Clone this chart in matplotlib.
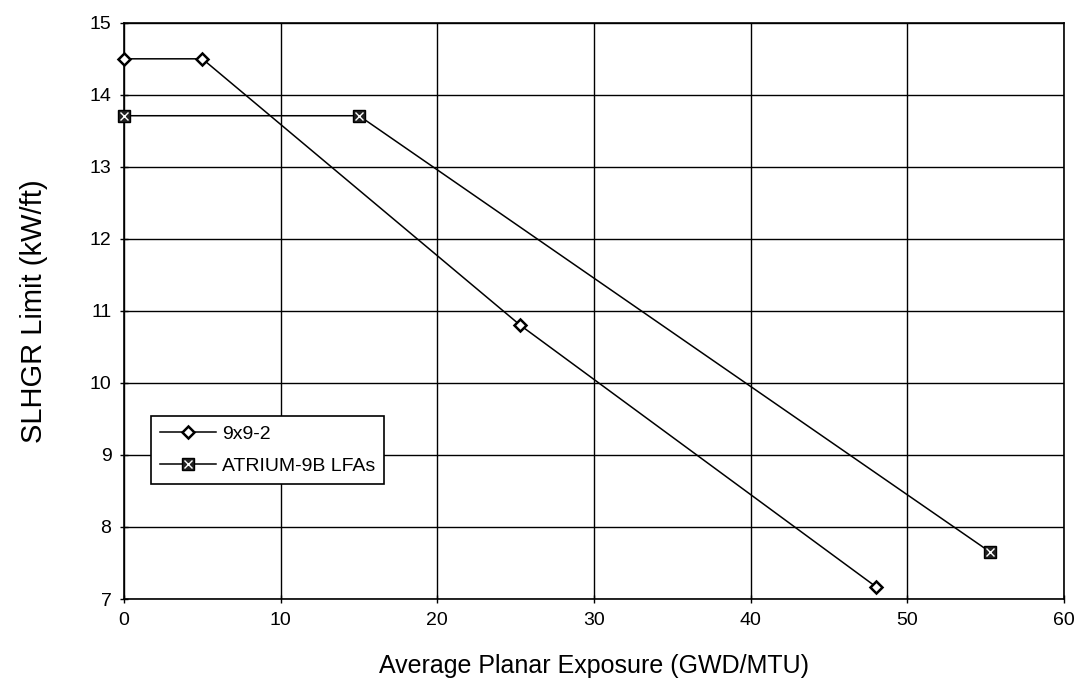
import matplotlib
matplotlib.use('Agg')
import matplotlib.pyplot as plt

plt.rcParams['font.family'] = ['Liberation Sans', 'DejaVu Sans']

x_992 = [0, 5, 25.3, 48.0]
y_992 = [14.5, 14.5, 10.8, 7.17]
x_atr = [0, 15, 55.3]
y_atr = [13.71, 13.71, 7.65]

labels = ['9x9-2', 'ATRIUM-9B LFAs']

fig = plt.figure(figsize=(10.82, 6.91), dpi=100)
ax = fig.add_axes([0.1146, 0.1331, 0.8688, 0.8339])

l1, = ax.plot(x_992, y_992, color='black', lw=1.1, marker='D', ms=6.5,
              mfc='white', mec='black', mew=1.8, clip_on=False, zorder=3)
l2, = ax.plot(x_atr, y_atr, color='black', lw=1.1, marker='s', ms=9,
              mfc='#222222', mec='black', mew=1, clip_on=False, zorder=3)
l2x, = ax.plot(x_atr, y_atr, ls='none', marker='x', ms=6, mec='white',
               mew=1, clip_on=False, zorder=4)

ax.set_xlim(0, 60)
ax.set_ylim(7, 15)
ax.set_xticks(range(0, 61, 10))
ax.set_yticks(range(7, 16))
ax.grid(True, color='black', lw=1)
ax.set_axisbelow(True)
for s in ax.spines.values():
    s.set_linewidth(1.2)
ax.tick_params(direction='inout', length=6, width=1, labelsize=14, pad=6)

ax.set_xlabel('Average Planar Exposure (GWD/MTU)', fontsize=18, labelpad=18)
ax.set_ylabel('SLHGR Limit (kW/ft)', fontsize=21, labelpad=30)

leg = ax.legend([l1, (l2, l2x)], labels, loc='lower left',
                bbox_to_anchor=(0.029, 0.2), borderaxespad=0, fontsize=14,
                frameon=True, fancybox=False, edgecolor='black', framealpha=1,
                handlelength=2.9, handletextpad=0.3, borderpad=0.45,
                labelspacing=0.75)
leg.get_frame().set_linewidth(1.2)

fig.savefig('out.png', dpi=100)
